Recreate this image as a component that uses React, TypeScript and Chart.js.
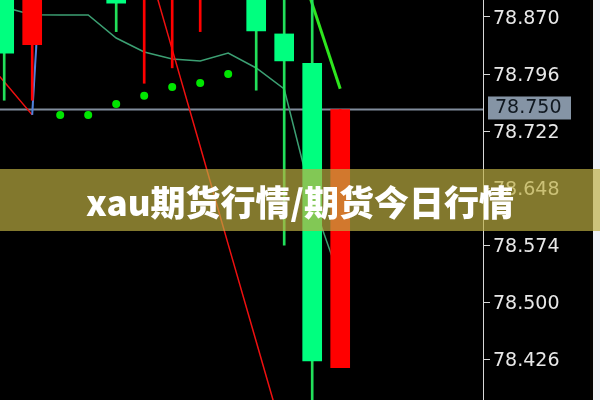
import React, { useEffect, useRef } from "react";
import { Chart, registerables } from "chart.js";

Chart.register(...registerables);

// ---- data ----
const candleIndex = [0, 1, 2, 3, 4, 5, 6, 7, 8, 9, 10, 11, 12];
const opens = [78.905, 78.834, 78.93, 78.96, 78.95, 78.9, 78.9, 78.9, 78.94, 78.93, 78.848, 78.81, 78.415];
const closes = [78.823, 78.92, 78.96, 78.99, 78.888, 78.95, 78.93, 78.94, 78.97, 78.852, 78.813, 78.424, 78.75];
const highs = [78.93, 78.95, 78.98, 79.0, 78.97, 78.97, 78.95, 78.96, 78.99, 78.95, 78.92, 78.92, 78.75];
const lows = [78.762, 78.762, 78.91, 78.94, 78.851, 78.784, 78.804, 78.851, 78.91, 78.775, 78.574, 78.36, 78.415];

const maIndex = [-1, 0, 1, 2, 3, 4, 5, 6, 7, 8, 9, 10, 11, 12];
const maValues = [78.91, 78.8826, 78.873, 78.8725, 78.8725, 78.8427, 78.8246, 78.8155, 78.8129, 78.8233, 78.8038, 78.7766, 78.6326, 78.529];

const sarIndex = [2, 3, 4, 5, 6, 7, 8];
const sarValues = [78.7428, 78.7428, 78.7571, 78.7679, 78.7792, 78.7843, 78.796];

const redLineAIndex = [-1, 0, 1];
const redLineAValues = [78.828, 78.786, 78.743];
const blueLineIndex = [1, 2];
const blueLineValues = [78.743, 79.356];
const redLineBIndex = [5, 6, 7, 8, 9, 10];
const redLineBValues = [78.954, 78.828, 78.702, 78.575, 78.449, 78.323];
const limeLineIndex = [10, 11, 12];
const limeLineValues = [78.997, 78.887, 78.777];

const tickValues = [78.426, 78.5, 78.574, 78.648, 78.722, 78.796, 78.87];
const currentPrice = 78.75;
const yMin = 78.3732;
const yMax = 78.892;
const xMin = -0.15;
const xMax = 17.1;

const bannerText = "xau期货行情/期货今日行情";

const UP = "#ff0000";
const DOWN_BODY = "#00ff7f";
const DOWN_WICK = "#22e05a";

const pts = (xs: number[], ys: number[]) => xs.map((x, i) => ({ x, y: ys[i] }));

const priceTagPlugin = {
  id: "priceTag",
  afterDraw(chart: any) {
    const y = chart.scales.y.getPixelForValue(currentPrice);
    const left = chart.chartArea.right;
    const ctx = chart.ctx;
    ctx.save();
    ctx.fillStyle = "rgb(133,148,165)";
    ctx.fillRect(left + 5, y - 13, 83, 23);
    ctx.fillStyle = "#101820";
    ctx.font = '19px "DejaVu Sans"';
    ctx.textBaseline = "middle";
    ctx.textAlign = "left";
    ctx.fillText(currentPrice.toFixed(3), left + 12, y - 1);
    ctx.restore();
  },
};

export default function App() {
  const ref = useRef<HTMLCanvasElement | null>(null);

  useEffect(() => {
    if (!ref.current) return;
    const isUp = (i: number) => closes[i] >= opens[i];
    const lineBase = { pointRadius: 0, pointHoverRadius: 0, tension: 0 };
    const chart = new Chart(ref.current, {
      type: "bar",
      data: {
        datasets: [
          {
            type: "line",
            data: [{ x: -1, y: currentPrice }, { x: 20, y: currentPrice }],
            borderColor: "rgb(128,140,156)",
            borderWidth: 2,
            ...lineBase,
            order: 20,
          } as any,
          {
            type: "line",
            data: pts(maIndex, maValues),
            borderColor: "rgb(60,160,115)",
            borderWidth: 1.5,
            ...lineBase,
            order: 19,
          },
          {
            type: "line",
            data: pts(redLineAIndex, redLineAValues),
            borderColor: "#ee1010",
            borderWidth: 1.5,
            ...lineBase,
            order: 18,
          },
          {
            type: "line",
            data: pts(redLineBIndex, redLineBValues),
            borderColor: "#ee1010",
            borderWidth: 1.5,
            ...lineBase,
            order: 18,
          },
          {
            type: "line",
            data: pts(blueLineIndex, blueLineValues),
            borderColor: "rgb(80,130,220)",
            borderWidth: 2,
            ...lineBase,
            order: 17,
          },
          {
            type: "line",
            data: pts(limeLineIndex, limeLineValues),
            borderColor: "#2ee61e",
            borderWidth: 3,
            ...lineBase,
            order: 16,
          },
          {
            type: "line",
            data: pts(sarIndex, sarValues),
            showLine: false,
            pointRadius: 4,
            pointHoverRadius: 4,
            pointBackgroundColor: "#00e600",
            pointBorderWidth: 0,
            order: 15,
          },
          {
            type: "bar",
            data: candleIndex.map((x, i) => ({ x, y: [lows[i], highs[i]] })),
            backgroundColor: candleIndex.map((_, i) => (isUp(i) ? UP : DOWN_WICK)),
            barThickness: 2,
            grouped: false,
            order: 2,
          } as any,
          {
            type: "bar",
            data: candleIndex.map((x, i) => ({ x, y: [opens[i], closes[i]] })),
            backgroundColor: candleIndex.map((_, i) => (isUp(i) ? UP : DOWN_BODY)),
            barThickness: 19,
            grouped: false,
            order: 1,
          } as any,
        ],
      },
      options: {
        animation: false,
        responsive: false,
        events: [],
        layout: { padding: 0, autoPadding: false },
        plugins: { legend: { display: false }, tooltip: { enabled: false } },
        scales: {
          x: { type: "linear", display: false, offset: false, min: xMin, max: xMax },
          y: {
            type: "linear",
            position: "right",
            min: yMin,
            max: yMax,
            afterBuildTicks: (s: any) => {
              s.ticks = tickValues.map((v) => ({ value: v }));
            },
            afterFit: (s: any) => {
              s.width = 110;
              s.paddingTop = 0;
              s.paddingBottom = 0;
            },
            grid: {
              drawOnChartArea: false,
              drawTicks: true,
              tickLength: 7,
              color: "#d8d8d8",
              lineWidth: 1,
            },
            border: { display: true, color: "#d8d8d8", width: 1 },
            ticks: {
              color: "#e8e8e8",
              padding: 3,
              labelOffset: 2,
              autoSkip: false,
              font: { family: "DejaVu Sans", size: 19 },
              callback: (v: any) => Number(v).toFixed(3),
            },
          },
        },
      } as any,
      plugins: [priceTagPlugin],
    });
    return () => chart.destroy();
  }, []);

  return (
    <div
      style={{
        position: "absolute",
        left: 0,
        top: 0,
        width: 600,
        height: 400,
        background: "#eef2f8",
        overflow: "hidden",
      }}
    >
      <canvas ref={ref} width={593} height={400} style={{ display: "block", background: "#000" }} />
      <div
        style={{
          position: "absolute",
          left: 0,
          top: 169,
          width: 600,
          height: 62,
          background: "rgba(190,175,66,0.686)",
          display: "flex",
          alignItems: "center",
          justifyContent: "center",
          color: "#fff",
          fontFamily: '"Noto Sans CJK SC", "Noto Sans", sans-serif',
          fontWeight: 900,
          fontSize: 35,
          lineHeight: 1,
          whiteSpace: "nowrap",
        }}
      >
        {bannerText}
      </div>
    </div>
  );
}
